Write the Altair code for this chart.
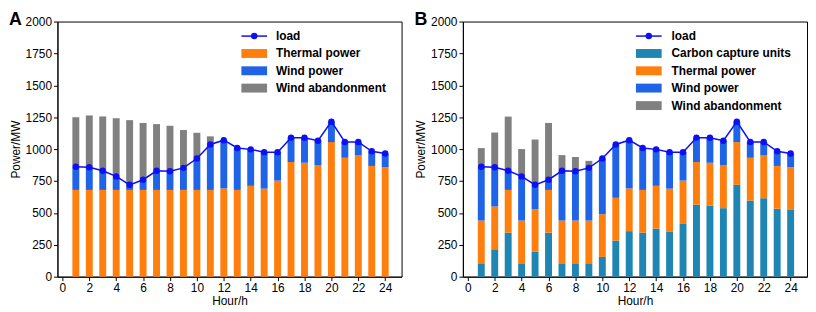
import altair as alt
import pandas as pd

hours = list(range(1, 25))
load = [862, 858, 830, 786, 720, 760, 830, 826, 853, 926, 1036, 1070,
        1009, 998, 976, 975, 1090, 1089, 1066, 1215, 1056, 1056, 983, 965]

# Panel A
a_thermal = [680, 680, 680, 680, 680, 680, 680, 680, 680, 680, 680, 692,
             680, 712, 690, 753, 899, 893, 872, 1055, 932, 950, 868, 858]
a_wind = [182, 178, 150, 106, 40, 80, 150, 146, 173, 246, 356, 378,
          329, 286, 286, 222, 191, 196, 194, 160, 124, 106, 115, 107]
a_aband = [388, 406, 426, 456, 507, 445, 366, 357, 297, 202, 64, 0,
           0, 0, 0, 0, 0, 0, 0, 0, 0, 0, 0, 0]

# Panel B
b_ccu = [105, 215, 345, 105, 195, 345, 105, 105, 105, 155, 283, 357,
         345, 377, 355, 418, 564, 558, 537, 720, 597, 615, 533, 523]
b_thermal = [335, 335, 335, 335, 335, 335, 335, 335, 335, 335, 335, 335,
             335, 335, 335, 335, 335, 335, 335, 335, 335, 335, 335, 335]
b_wind = [422, 308, 150, 346, 190, 80, 390, 386, 413, 436, 418, 378,
          329, 286, 286, 222, 191, 196, 194, 160, 124, 106, 115, 107]
b_aband = [146, 272, 425, 214, 355, 445, 123, 112, 55, 0, 0, 0,
           0, 0, 0, 0, 0, 0, 0, 0, 0, 0, 0, 0]

panel_letters = ["A", "B"]
load_label = "load"
names_a = ["Thermal power", "Wind power", "Wind abandonment"]
names_b = ["Carbon capture units", "Thermal power", "Wind power", "Wind abandonment"]
x_ticks = list(range(0, 25, 2))
y_ticks = list(range(0, 2001, 250))

COLORS = {
    "Carbon capture units": "#1f86b4",
    "Thermal power": "#ff7f0e",
    "Wind power": "#1f63e6",
    "Wind abandonment": "#808080",
}
LOAD_COLOR = "#0c10f2"
FONT = "Liberation Sans"

W, H = 348, 258


def panel(letter, names, series, legend_x0, text_x):
    rows = []
    for k, (name, vals) in enumerate(zip(names, series)):
        for h, v in zip(hours, vals):
            rows.append({"hour": h, "series": name, "value": v, "ord": k})
    df = pd.DataFrame(rows)
    load_df = pd.DataFrame({"hour": hours, "load": load})

    x_axis = alt.Axis(values=x_ticks, title="Hour/h", titlePadding=2,
                      format="d", labelOverlap=False)
    y_axis = alt.Axis(values=y_ticks, title="Power/MW", titlePadding=3,
                      format="d", labelOverlap=False)
    x_scale = alt.Scale(domain=[0, 24.85], nice=False, zero=False)
    y_scale = alt.Scale(domain=[0, 2000], nice=False)

    bars = alt.Chart(df).mark_bar(size=7).encode(
        x=alt.X("hour:Q", scale=x_scale, axis=x_axis),
        y=alt.Y("value:Q", stack="zero", scale=y_scale, axis=y_axis),
        color=alt.Color("series:N",
                        scale=alt.Scale(domain=names, range=[COLORS[n] for n in names]),
                        legend=None),
        order=alt.Order("ord:Q", sort="ascending"),
    )
    line = alt.Chart(load_df).mark_line(color=LOAD_COLOR, strokeWidth=1.5).encode(
        x=alt.X("hour:Q", scale=x_scale, axis=x_axis),
        y=alt.Y("load:Q", scale=y_scale, axis=y_axis))
    pts = alt.Chart(load_df).mark_circle(size=42, color=LOAD_COLOR, opacity=1).encode(
        x=alt.X("hour:Q", scale=x_scale, axis=x_axis),
        y=alt.Y("load:Q", scale=y_scale, axis=y_axis))

    layers = [bars, line, pts]

    # legend
    row_y = [14.7, 32.3, 49.8, 67.3, 85.0]
    ldf = pd.DataFrame({"label": [load_label]})
    layers.append(alt.Chart(ldf).mark_rule(color=LOAD_COLOR, strokeWidth=1.5).encode(
        x=alt.value(legend_x0), x2=alt.value(legend_x0 + 26), y=alt.value(row_y[0])))
    layers.append(alt.Chart(ldf).mark_circle(size=42, color=LOAD_COLOR, opacity=1).encode(
        x=alt.value(legend_x0 + 13), y=alt.value(row_y[0])))
    layers.append(alt.Chart(ldf).mark_text(
        align="left", baseline="middle", fontSize=12, fontWeight="bold",
        font=FONT, color="black").encode(
        x=alt.value(text_x), y=alt.value(row_y[0]), text="label:N"))
    for i, name in enumerate(names):
        y = row_y[i + 1]
        d = pd.DataFrame({"label": [name]})
        layers.append(alt.Chart(d).mark_rect(color=COLORS[name]).encode(
            x=alt.value(legend_x0), x2=alt.value(legend_x0 + 26),
            y=alt.value(y - 4.5), y2=alt.value(y + 4.5)))
        layers.append(alt.Chart(d).mark_text(
            align="left", baseline="middle", fontSize=12, fontWeight="bold",
            font=FONT, color="black").encode(
            x=alt.value(text_x), y=alt.value(y), text="label:N"))

    lt = pd.DataFrame({"t": [letter]})
    layers.append(alt.Chart(lt).mark_text(
        align="left", baseline="top", fontSize=18, fontWeight="bold",
        font=FONT, color="black").encode(
        x=alt.value(-49), y=alt.value(-11), text="t:N"))

    return alt.layer(*layers).properties(width=W, height=H)


pa = panel(panel_letters[0], names_a, [a_thermal, a_wind, a_aband], 186, 221)
pb = panel(panel_letters[1], names_b, [b_ccu, b_thermal, b_wind, b_aband], 175, 211)

chart = alt.hconcat(pa, pb, spacing=11).resolve_scale(
    color="independent"
).properties(
    padding={"left": 0, "top": 0, "right": 0, "bottom": 0}
).configure_view(
    stroke="black", strokeWidth=1
).configure_axis(
    labelFont=FONT, labelFontSize=12, labelColor="black",
    titleFont=FONT, titleFontSize=12, titleFontWeight="normal", titleColor="black",
    domainColor="black", tickColor="black", tickSize=4, labelPadding=2, grid=False,
    labelOverlap=False,
)

chart.save("out.html", embed_options={"renderer": "svg", "actions": False})
